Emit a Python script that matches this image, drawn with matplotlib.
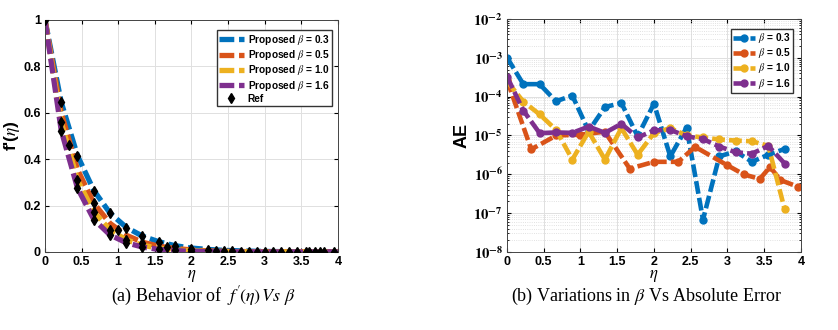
import numpy as np
import matplotlib
matplotlib.use('Agg')
import matplotlib.pyplot as plt
import matplotlib.ticker as tck

plt.rcParams['font.family'] = ['Liberation Sans', 'DejaVu Sans']
plt.rcParams['mathtext.fontset'] = 'stix'

# cores padrão do MATLAB
cores = ['#0072BD', '#D95319', '#EDB120', '#7E2F8E']
betas = ['0.3', '0.5', '1.0', '1.6']

# (a) f'(eta) para cada beta
eta = [0, 0.222, 0.444, 0.667, 0.889, 1.111, 1.333, 1.556, 1.778, 2.0,
       2.222, 2.444, 2.667, 2.889, 3.111, 3.333, 3.556, 3.778, 4.0]
fp_b03 = [1.0, 0.645, 0.415, 0.265, 0.167, 0.106, 0.068, 0.044, 0.027, 0.017,
          0.011, 0.007, 0.005, 0.003, 0.002, 0.0015, 0.001, 0.0008, 0.0005]
fp_b05 = [1.0, 0.60, 0.355, 0.21, 0.123, 0.072, 0.042, 0.025, 0.015, 0.009,
          0.005, 0.003, 0.002, 0.0012, 0.0008, 0.0005, 0.0003, 0.0002, 0.0001]
fp_b10 = [1.0, 0.559, 0.31, 0.172, 0.095, 0.052, 0.029, 0.016, 0.009, 0.005,
          0.003, 0.0016, 0.001, 0.0006, 0.0004, 0.0002, 0.0001, 0.0001, 0.0]
fp_b16 = [1.0, 0.523, 0.275, 0.14, 0.073, 0.04, 0.021, 0.011, 0.006, 0.003,
          0.0017, 0.001, 0.0005, 0.0003, 0.0002, 0.0001, 0.0, 0.0, 0.0]

ref_eta = [0, 0.22, 0.22, 0.22, 0.33, 0.44, 0.44, 0.44, 0.67, 0.67, 0.67, 0.67,
           0.89, 0.89, 0.89, 1.0, 1.11, 1.11, 1.11, 1.33, 1.33, 1.33, 1.56, 1.56,
           1.67, 1.78, 1.78, 2.0, 2.0, 2.22, 2.33, 2.44, 2.56, 2.67, 2.78, 2.89,
           3.0, 3.11, 3.22, 3.33, 3.44, 3.56, 3.6, 3.69, 3.76, 3.81, 3.94]
ref_fp = [1.0, 0.645, 0.559, 0.523, 0.461, 0.415, 0.31, 0.275, 0.264, 0.21, 0.172, 0.138,
          0.167, 0.095, 0.073, 0.095, 0.105, 0.052, 0.04, 0.068, 0.04, 0.02, 0.044, 0.015,
          0.02, 0.026, 0.008, 0.015, 0.005, 0.008, 0.004, 0.004, 0.003, 0.002, 0.002, 0.001,
          0.001, 0.001, 0.001, 0.001, 0.001, 0.001, 0.001, 0.001, 0.001, 0.001, 0.001]

# (b) erro absoluto
ae_eta = [0, 0.222, 0.444, 0.667, 0.889, 1.111, 1.333, 1.556, 1.778, 2.0,
          2.222, 2.444, 2.667, 2.889, 3.111, 3.333, 3.556, 3.778]
ae_b03 = [1.02e-3, 2.1e-4, 2.1e-4, 7.6e-5, 1.07e-4, 1.3e-5, 5.4e-5, 6.9e-5, 9.5e-6, 6.6e-5,
          2.9e-6, 1.6e-5, 6.8e-8, 2.9e-6, 3.9e-6, 2.1e-6, 3.2e-6, 4.5e-6]
ae_eta_b05 = [0, 0.33, 0.67, 1.0, 1.33, 1.67, 2.0, 2.33, 2.56, 3.0, 3.22, 3.44, 3.58, 3.72, 3.96]
ae_b05 = [2.7e-4, 4.4e-6, 1.0e-5, 1.05e-5, 1.25e-5, 1.4e-6, 2.1e-6, 2.1e-6, 5.1e-6, 1.7e-6,
          1.0e-6, 7.6e-7, 1.55e-6, 7.1e-7, 4.8e-7]
ae_b10 = [2.5e-4, 7.5e-5, 3.5e-5, 1.4e-5, 2.4e-6, 1.25e-5, 2.4e-6, 1.55e-5, 3.2e-6, 1.15e-5,
          1.55e-5, 1.0e-5, 8.9e-6, 7.9e-6, 7.4e-6, 7.1e-6, 5.4e-6, 1.26e-7]
ae_b16 = [3.3e-4, 4.4e-5, 1.15e-5, 1.2e-5, 1.17e-5, 1.7e-5, 1.17e-5, 2.0e-5, 8.9e-6, 1.35e-5,
          1.4e-5, 9.5e-6, 8.1e-6, 5.2e-6, 3.7e-6, 3.4e-6, 5.4e-6, 1.9e-6]

fig = plt.figure(figsize=(8.38, 3.30), dpi=100)
ax1 = fig.add_axes([0.0537, 0.2364, 0.3496, 0.703])
ax2 = fig.add_axes([0.605, 0.2364, 0.3508, 0.706])

tracejado = (0, (2.8, 0.9))

# ---- painel (a)
for fp, cor, b in zip([fp_b03, fp_b05, fp_b10, fp_b16], cores, betas):
    ax1.plot(eta, fp, color=cor, linestyle=tracejado, linewidth=3.8,
             label=r'Proposed $\beta$ = ' + b)
ax1.plot(ref_eta, ref_fp, linestyle='none', marker='d', color='black',
         markersize=5, label='Ref', zorder=5)

ax1.set_xlim(0, 4)
ax1.set_ylim(0, 1)
ax1.set_xticks([0, 0.5, 1, 1.5, 2, 2.5, 3, 3.5, 4])
ax1.set_xticklabels(['0', '0.5', '1', '1.5', '2', '2.5', '3', '3.5', '4'])
ax1.set_yticks([0, 0.2, 0.4, 0.6, 0.8, 1])
ax1.set_yticklabels(['0', '0.2', '0.4', '0.6', '0.8', '1'])
ax1.set_xlabel(r'$\eta$', fontsize=12, labelpad=0)
ax1.set_ylabel(r"f'($\eta$)", fontsize=12.5, fontweight='bold', labelpad=1)
ax1.legend(loc='upper right', prop={'weight': 'bold', 'size': 7.3},
           handlelength=2.4, handletextpad=0.4, borderpad=0.25, labelspacing=0.12,
           fancybox=False, edgecolor='#333333', framealpha=1,
           bbox_to_anchor=(0.9975, 0.977))

# ---- painel (b)
series_b = [(ae_eta, ae_b03), (ae_eta_b05, ae_b05), (ae_eta, ae_b10), (ae_eta, ae_b16)]
for (x, y), cor, b in zip(series_b, cores, betas):
    ax2.semilogy(x, y, color=cor, linestyle=tracejado, linewidth=3.3,
                 marker='o', markersize=5, label=r'$\beta$ = ' + b)

ax2.set_xlim(0, 4)
ax2.set_ylim(1e-8, 1e-2)
ax2.set_xticks([0, 0.5, 1, 1.5, 2, 2.5, 3, 3.5, 4])
ax2.set_xticklabels(['0', '0.5', '1', '1.5', '2', '2.5', '3', '3.5', '4'])
ax2.set_yticks([1e-8, 1e-7, 1e-6, 1e-5, 1e-4, 1e-3, 1e-2])
ax2.set_yticklabels([r'$\mathbf{10^{%d}}$' % p for p in range(-8, -1)])
ax2.yaxis.set_minor_locator(tck.LogLocator(base=10, subs=np.arange(2, 10), numticks=20))
ax2.yaxis.set_minor_formatter(tck.NullFormatter())
ax2.set_xlabel(r'$\eta$', fontsize=12, labelpad=0)
ax2.set_ylabel('AE', fontsize=13, fontweight='bold', labelpad=2)
ax2.grid(True, which='minor', axis='y', color='#d8d8d8', linestyle=':', linewidth=0.6)
ax2.legend(loc='upper right', prop={'weight': 'bold', 'size': 7.3},
           handlelength=2.2, handletextpad=0.3, borderpad=0.2, labelspacing=0.1,
           fancybox=False, edgecolor='#333333', framealpha=1,
           bbox_to_anchor=(0.99, 0.977))

for ax in [ax1, ax2]:
    ax.grid(True, which='major', color='#e0e0e0', linewidth=0.7)
    ax.set_axisbelow(True)
    ax.tick_params(direction='in', length=3, labelsize=9, pad=3, top=True, right=True)
    ax.tick_params(which='minor', direction='in', length=1.5, right=True)
    for lab in ax.get_xticklabels() + ax.get_yticklabels():
        lab.set_fontweight('bold')
    for s in ax.spines.values():
        s.set_color('#444444')
        s.set_linewidth(0.7)
ax2.tick_params(axis='y', labelsize=10.5)

# legendas das figuras
fig.text(0.242, 0.103, r"(a) Behavior of  $f'\!\left(\eta\right)\,Vs\ \beta$", ha='center', va='center',
         fontsize=13, family='Liberation Serif')
fig.text(0.771, 0.103, r"(b) Variations in $\beta$ Vs Absolute Error", ha='center', va='center',
         fontsize=13, family='Liberation Serif')

plt.savefig('out.png', dpi=100)
